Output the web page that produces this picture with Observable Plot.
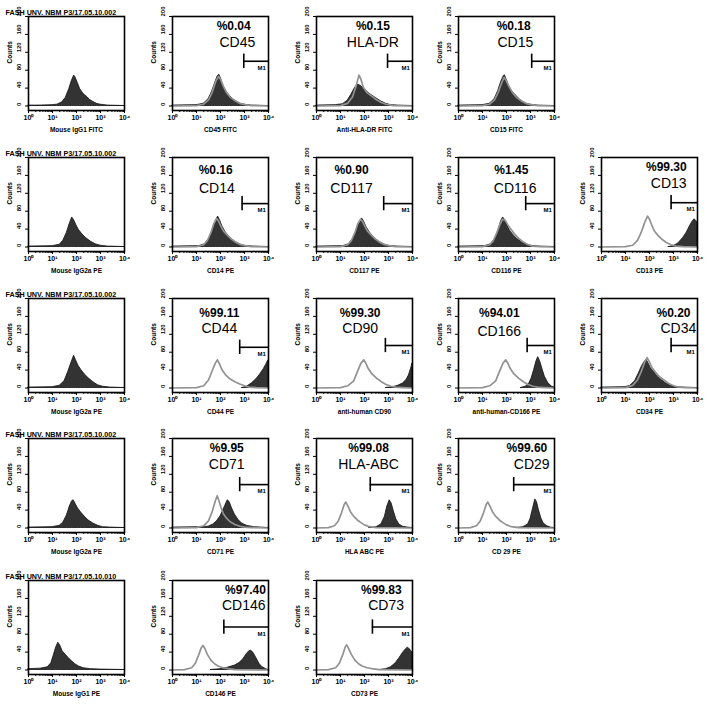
<!DOCTYPE html>
<html><head><meta charset="utf-8">
<script src="https://cdn.jsdelivr.net/npm/d3@7"></script>
<script src="https://cdn.jsdelivr.net/npm/@observablehq/plot@0.6"></script>
<style>
body{margin:0;background:#fff;}
#fig{position:relative;width:708px;height:711px;overflow:hidden;background:#fff;font-family:"Liberation Sans",Arial,sans-serif;}
.panel{position:absolute;}
</style></head><body><div id="fig"></div>
<script>
// ---------- data ----------
const panelRow = [0,0,0,0, 1,1,1,1,1, 2,2,2,2,2, 3,3,3,3, 4,4,4];
const panelCol = [0,1,2,3, 0,1,2,3,4, 0,1,2,3,4, 0,1,2,3, 0,1,2];
const runIds = ["FASH UNV. NBM P3/17.05.10.002","FASH UNV. NBM P3/17.05.10.002","FASH UNV. NBM P3/17.05.10.002","FASH UNV. NBM P3/17.05.10.002","FASH UNV. NBM P3/17.05.10.010"];
const markers = [null,"CD45","HLA-DR","CD15", null,"CD14","CD117","CD116","CD13", null,"CD44","CD90","CD166","CD34", null,"CD71","HLA-ABC","CD29", null,"CD146","CD73"];
const percents = [null,"%0.04","%0.15","%0.18", null,"%0.16","%0.90","%1.45","%99.30", null,"%99.11","%99.30","%94.01","%0.20", null,"%9.95","%99.08","%99.60", null,"%97.40","%99.83"];
const xLabels = ["Mouse IgG1 FITC","CD45 FITC","Anti-HLA-DR FITC","CD15 FITC",
  "Mouse IgG2a PE","CD14 PE","CD117 PE","CD116 PE","CD13 PE",
  "Mouse IgG2a PE","CD44 PE","anti-human CD90","anti-human-CD166 PE","CD34 PE",
  "Mouse IgG2a PE","CD71 PE","HLA ABC PE","CD 29 PE",
  "Mouse IgG1 PE","CD146 PE","CD73 PE"];
// M1 gate start (log10 of fluorescence) and gate drawing level (counts)
const gateStart = [null,2.97,2.96,3.05, null,2.9,2.8,2.8,2.9, null,2.8,2.87,2.86,2.9, null,2.8,2.24,2.3, null,2.14,2.33];
const gateLevel = [null,100,100,100, null,97,97,97,99, null,91,95,95,95, null,97,97,97, null,96,96];
const yTicks = [0,40,80,120,160,200];
const xTicks = [1,10,100,1000,10000];

// histograms: [log10 fluorescence, counts]
const filledCurves = [
  [[0,1],[0.5,1],[1.0,2],[1.2,3],[1.4,8],[1.55,18],[1.7,38],[1.8,55],[1.9,68],[1.95,65],[2.05,52],[2.15,38],[2.25,30],[2.35,24],[2.45,20],[2.55,14],[2.7,9],[2.85,5],[3.0,3],[3.3,1],[4,0]],
  [[0,1],[1.0,2],[1.3,5],[1.5,15],[1.65,32],[1.78,52],[1.88,66],[1.95,70],[2.03,60],[2.12,45],[2.25,32],[2.4,22],[2.55,14],[2.7,9],[2.85,5],[3.0,3],[3.3,1],[4,0]],
  [[0,1],[0.8,2],[1.1,4],[1.3,12],[1.45,25],[1.6,40],[1.72,48],[1.85,45],[2.0,38],[2.15,30],[2.3,24],[2.5,17],[2.7,10],[2.9,5],[3.1,2],[3.4,1],[4,0]],
  [[0,1],[1.0,2],[1.3,5],[1.5,15],[1.65,33],[1.78,54],[1.88,66],[1.93,69],[2.0,60],[2.1,46],[2.22,34],[2.38,24],[2.55,15],[2.7,9],[2.85,5],[3.0,3],[3.3,1],[4,0]],
  [[0,1],[1.0,2],[1.3,5],[1.45,14],[1.6,32],[1.72,52],[1.82,66],[1.9,60],[2.0,48],[2.1,38],[2.25,28],[2.4,20],[2.6,12],[2.8,6],[3.0,3],[3.3,1],[4,0]],
  [[0,1],[1.1,2],[1.35,6],[1.55,20],[1.7,42],[1.82,60],[1.9,68],[1.98,60],[2.08,46],[2.2,34],[2.35,24],[2.5,16],[2.7,9],[2.9,4],[3.1,2],[3.4,1],[4,0]],
  [[0,1],[1.1,2],[1.35,6],[1.55,20],[1.7,40],[1.82,56],[1.9,64],[1.98,57],[2.08,45],[2.2,34],[2.35,24],[2.5,16],[2.7,9],[2.9,4],[3.1,2],[3.4,1],[4,0]],
  [[0,1],[1.1,2],[1.35,6],[1.55,20],[1.68,40],[1.78,58],[1.86,66],[1.94,60],[2.04,48],[2.15,36],[2.3,26],[2.45,18],[2.65,10],[2.85,5],[3.1,2],[3.4,1],[4,0]],
  [[2.8,0],[3.0,2],[3.2,8],[3.4,20],[3.55,32],[3.7,48],[3.8,57],[3.88,62],[3.95,58],[4.0,55]],
  [[0,1],[1.0,2],[1.3,5],[1.5,15],[1.65,35],[1.8,58],[1.9,72],[1.98,62],[2.08,50],[2.2,40],[2.35,30],[2.5,22],[2.7,13],[2.9,6],[3.1,3],[3.4,1],[4,0]],
  [[2.9,0],[3.1,3],[3.3,10],[3.5,20],[3.65,30],[3.8,42],[3.9,52],[4.0,62]],
  [[2.9,0],[3.2,2],[3.4,5],[3.6,10],[3.75,18],[3.85,28],[3.95,45],[4.0,55]],
  [[2.6,0],[2.8,3],[2.95,10],[3.05,22],[3.15,40],[3.25,60],[3.32,69],[3.4,60],[3.5,42],[3.6,25],[3.75,10],[3.9,3],[4.0,1]],
  [[0,1],[1.0,2],[1.2,5],[1.4,15],[1.55,32],[1.7,50],[1.82,60],[1.88,63],[1.95,56],[2.05,45],[2.2,35],[2.35,26],[2.5,18],[2.7,10],[2.9,5],[3.1,2],[3.4,1],[4,0]],
  [[0,1],[1.0,2],[1.3,5],[1.45,12],[1.6,28],[1.72,48],[1.82,60],[1.88,62],[1.96,54],[2.06,44],[2.2,34],[2.35,25],[2.5,17],[2.7,10],[2.9,5],[3.1,2],[3.4,1],[4,0]],
  [[0,1],[1.2,2],[1.5,3],[1.7,8],[1.85,15],[2.0,26],[2.1,38],[2.2,50],[2.3,62],[2.38,58],[2.48,44],[2.6,30],[2.75,18],[2.9,10],[3.1,5],[3.4,2],[3.7,1],[4,0]],
  [[2.2,0],[2.5,2],[2.7,8],[2.85,25],[2.95,48],[3.05,62],[3.13,55],[3.22,38],[3.32,20],[3.45,8],[3.6,3],[3.8,1],[4,0]],
  [[2.4,0],[2.7,2],[2.9,8],[3.0,20],[3.1,42],[3.2,64],[3.27,58],[3.35,40],[3.45,22],[3.55,10],[3.7,4],[3.85,1],[4,0]],
  [[0,2],[0.5,3],[0.8,6],[0.95,15],[1.05,32],[1.15,50],[1.24,61],[1.32,55],[1.42,42],[1.55,34],[1.65,28],[1.8,20],[1.95,13],[2.1,8],[2.3,4],[2.6,2],[3.0,1],[4,0]],
  [[1.6,0],[2.0,2],[2.3,5],[2.6,10],[2.8,16],[2.95,24],[3.1,36],[3.2,42],[3.28,43],[3.38,38],[3.5,26],[3.62,14],[3.75,6],[3.9,2],[4.0,0]],
  [[2.6,0],[2.9,2],[3.1,6],[3.3,15],[3.45,26],[3.6,38],[3.72,46],[3.8,50],[3.88,47],[3.95,42],[4.0,38]]
];
const isoCurves = [
  null,
  [[0,0],[1.0,1],[1.3,4],[1.5,14],[1.65,30],[1.8,55],[1.92,66],[2.0,60],[2.12,44],[2.25,30],[2.4,20],[2.6,12],[2.8,6],[3.0,3],[3.3,1],[4,0]],
  [[0,0],[1.0,1],[1.3,6],[1.5,20],[1.65,45],[1.77,69],[1.85,60],[1.95,42],[2.1,30],[2.3,22],[2.5,14],[2.7,8],[2.9,4],[3.2,1],[4,0]],
  [[0,0],[1.0,1],[1.3,4],[1.5,14],[1.65,30],[1.8,52],[1.9,64],[1.98,58],[2.1,44],[2.25,30],[2.4,20],[2.6,12],[2.8,6],[3.0,3],[3.3,1],[4,0]],
  null,
  [[0,0],[1.0,1],[1.3,5],[1.45,14],[1.6,32],[1.72,52],[1.84,64],[1.92,58],[2.02,46],[2.12,36],[2.27,27],[2.42,19],[2.6,12],[2.8,6],[3.0,3],[3.3,1],[4,0]],
  [[0,0],[1.0,1],[1.3,5],[1.45,14],[1.6,32],[1.72,52],[1.84,62],[1.92,57],[2.02,46],[2.12,36],[2.27,27],[2.42,19],[2.6,12],[2.8,6],[3.0,3],[3.3,1],[4,0]],
  [[0,0],[1.0,1],[1.3,5],[1.45,14],[1.6,32],[1.72,50],[1.84,62],[1.94,60],[2.05,50],[2.18,40],[2.32,30],[2.5,20],[2.7,11],[2.9,5],[3.1,2],[3.4,1],[4,0]],
  [[0,0],[1.0,1],[1.3,4],[1.5,15],[1.65,32],[1.8,55],[1.92,69],[2.0,62],[2.1,48],[2.2,36],[2.35,26],[2.5,18],[2.7,10],[2.9,5],[3.1,2],[3.4,1],[4,0]],
  null,
  [[0,0],[1.0,1],[1.3,5],[1.5,18],[1.65,38],[1.78,55],[1.87,63],[1.95,55],[2.05,42],[2.2,30],[2.4,20],[2.6,14],[2.8,9],[3.0,5],[3.2,2],[3.5,1],[4,0]],
  [[0,0],[1.0,1],[1.3,5],[1.55,16],[1.7,36],[1.85,55],[1.97,63],[2.05,56],[2.15,44],[2.3,32],[2.5,22],[2.7,14],[2.9,8],[3.1,4],[3.3,2],[3.6,1],[4,0]],
  [[0,0],[1.0,1],[1.3,5],[1.55,16],[1.7,36],[1.85,55],[1.97,63],[2.05,56],[2.15,44],[2.3,32],[2.5,22],[2.7,14],[2.9,8],[3.1,4],[3.3,2],[3.6,1],[4,0]],
  [[0,0],[1.0,1],[1.3,6],[1.5,18],[1.65,36],[1.8,58],[1.9,68],[1.98,60],[2.1,46],[2.25,35],[2.4,26],[2.6,18],[2.8,10],[3.0,5],[3.2,2],[3.5,1],[4,0]],
  null,
  [[0,0],[1.0,1],[1.3,5],[1.5,16],[1.65,36],[1.78,60],[1.86,72],[1.93,62],[2.02,46],[2.12,32],[2.25,22],[2.4,14],[2.6,8],[2.8,4],[3.0,2],[3.3,1],[4,0]],
  [[0,0],[0.5,1],[0.75,5],[0.9,15],[1.05,35],[1.15,52],[1.22,58],[1.3,50],[1.42,36],[1.55,26],[1.7,18],[1.85,12],[2.0,7],[2.2,3],[2.5,1],[4,0]],
  [[0,0],[0.5,1],[0.75,5],[0.9,15],[1.05,35],[1.15,52],[1.22,58],[1.3,50],[1.42,36],[1.55,26],[1.7,18],[1.85,12],[2.0,7],[2.2,3],[2.5,1],[4,0]],
  null,
  [[0,0],[0.5,1],[0.8,5],[0.95,15],[1.1,35],[1.2,50],[1.27,55],[1.35,48],[1.45,35],[1.6,22],[1.75,14],[1.9,9],[2.1,5],[2.3,3],[2.6,1],[4,0]],
  [[0,0],[0.5,1],[0.8,5],[0.95,15],[1.1,35],[1.2,52],[1.26,56],[1.34,48],[1.45,35],[1.6,22],[1.75,14],[1.9,9],[2.1,5],[2.3,3],[2.6,1],[4,0]]
];

// ---------- layout (pixels / label anchors) ----------
const colLeft = [28,172,316,458,601];
const rowTop = [16,157,298,438,580];
const frameW = 96, frameH = 94;
const mL = 26, mR = 18, mT = 16, mB = 28;
// label anchors in data units [log10 x, counts]
const pctPos = [null,[2.55,178],[2.35,178],[2.3,178], null,[1.8,172],[1.46,172],[2.2,172],[2.7,178], null,[1.95,168],[1.82,168],[1.7,168],[3.0,168], null,[2.26,178],[2.17,178],[2.85,178], null,[3.04,178],[2.7,178]];
const namePos = [null,[2.7,141],[2.35,141],[2.37,141], null,[1.85,131],[1.46,131],[2.36,131],[2.8,141], null,[1.95,133],[1.82,133],[1.7,126],[3.2,133], null,[2.26,141],[2.17,141],[3.05,141], null,[2.97,144],[2.9,144]];

const sup = ["\u2070","\u00b9","\u00b2","\u00b3","\u2074"];
const minorTicks = [];
for (let d = 0; d < 4; d++) for (let k = 2; k <= 9; k++) minorTicks.push(k * 10 ** d);

const fig = document.getElementById("fig");
const FONT = "Liberation Sans, Arial, sans-serif";

for (let i = 0; i < markers.length; i++) {
  const r = panelRow[i], c = panelCol[i];
  const L = d => 10 ** d[0];
  const marks = [
    Plot.areaY(filledCurves[i], {x: L, y: d => d[1], fill: "#333", stroke: "#111", strokeWidth: 0.8}),
  ];
  if (isoCurves[i]) marks.push(Plot.lineY(isoCurves[i], {x: L, y: d => d[1], stroke: "#929292", strokeWidth: 1.7}));
  marks.push(Plot.frame({stroke: "#000", strokeWidth: 1.6}));
  marks.push(Plot.axisX({ticks: xTicks, tickSize: 3, tickPadding: 2, fontSize: 7, fontWeight: "bold", label: null,
    tickFormat: d => "10" + sup[Math.round(Math.log10(d))]}));
  marks.push(Plot.axisX({ticks: minorTicks, tickSize: 2, tickFormat: () => "", label: null}));
  marks.push(Plot.axisY({ticks: yTicks, tickSize: 3, tickFormat: () => "", label: null}));
  marks.push(Plot.text(yTicks, {y: d => d, text: d => String(d), frameAnchor: "left", rotate: -90, dx: -9, fontSize: 6, fontWeight: "bold"}));
  marks.push(Plot.text(["Counts"], {text: d => d, frameAnchor: "left", rotate: -90, dx: -19, fontSize: 6.5, fontWeight: "bold"}));
  marks.push(Plot.text([xLabels[i]], {text: d => d, frameAnchor: "bottom", dy: 21, fontSize: 6.5, fontWeight: "bold"}));
  if (c === 0) marks.push(Plot.text([runIds[r]], {text: d => d, frameAnchor: "top-left", dx: -23, dy: -7, textAnchor: "start", fontSize: 7.2, fontWeight: "bold"}));
  if (gateStart[i] != null) {
    const g = gateStart[i], lv = gateLevel[i];
    marks.push(Plot.ruleY([lv], {y: d => d, x1: () => 10 ** g, x2: () => 1e4, stroke: "#000", strokeWidth: 1.6}));
    marks.push(Plot.ruleX([g], {x: d => 10 ** d, y1: () => lv - 16, y2: () => lv + 16, stroke: "#000", strokeWidth: 1.6}));
    marks.push(Plot.text(["M1"], {text: d => d, x: () => 10 ** 3.72, y: () => lv - 15, fontSize: 6, fontWeight: "bold"}));
    marks.push(Plot.text([percents[i]], {text: d => d, x: () => 10 ** pctPos[i][0], y: () => pctPos[i][1], fontSize: 12, fontWeight: "bold"}));
    marks.push(Plot.text([markers[i]], {text: d => d, x: () => 10 ** namePos[i][0], y: () => namePos[i][1], fontSize: 14}));
  }
  const svg = Plot.plot({
    width: frameW + mL + mR, height: frameH + mT + mB,
    marginLeft: mL, marginRight: mR, marginTop: mT, marginBottom: mB,
    x: {type: "log", domain: [1, 1e4]},
    y: {domain: [-10, 200]},
    style: {background: "transparent", overflow: "visible", fontFamily: FONT, color: "#000"},
    marks
  });
  svg.classList.add("panel");
  svg.style.position = "absolute";
  svg.style.left = (colLeft[c] - mL) + "px";
  svg.style.top = (rowTop[r] - mT) + "px";
  fig.appendChild(svg);
}
</script></body></html>
